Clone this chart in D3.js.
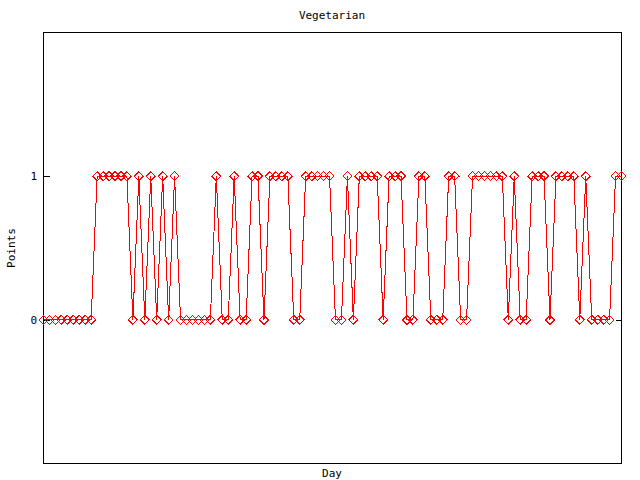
<!DOCTYPE html>
<html>
<head>
<meta charset="utf-8">
<script src="https://cdn.jsdelivr.net/npm/d3@7"></script>
<style>
  html, body { margin: 0; padding: 0; background: #fff; }
  svg { display: block; }
  text { font-family: "DejaVu Sans Mono", "Liberation Mono", monospace; font-size: 11px; fill: #000; }
</style>
</head>
<body>
<svg id="chart" width="640" height="480"></svg>
<script>
// ---- data ----
const title = "Vegetarian";
const xLabel = "Day";
const yLabel = "Points";
const yTicks = [0, 1];
const yDomain = [-1, 2];
// one value per day, days 0..97
const points = [
  0,0,0,0,0,0,0,0,0,        // 0-8
  1,1,1,1,1,1,              // 9-14
  0,1,0,1,0,1,0,1,          // 15-22
  0,0,0,0,0,0,              // 23-28
  1,0,0,1,0,0,1,1,0,        // 29-37
  1,1,1,1,0,0,              // 38-43
  1,1,1,1,1,0,0,1,0,        // 44-52
  1,1,1,1,0,1,1,1,0,0,      // 53-62
  1,1,0,0,0,1,1,0,0,        // 63-71
  1,1,1,1,1,1,0,1,0,0,      // 72-81
  1,1,1,0,1,1,1,1,0,1,      // 82-91
  0,0,0,0,1,1               // 92-97
];
const days = points.map((_, i) => i);

// ---- layout ----
const svg = d3.select("#chart");
const mLeft = 43.5, mRight = 621.5, mTop = 32.5, mBottom = 463.5;

const x = d3.scaleLinear().domain([0, days.length - 1]).range([mLeft, mRight]);
const y = d3.scaleLinear().domain(yDomain).range([mBottom, mTop]);

// frame
svg.append("rect")
  .attr("x", mLeft).attr("y", mTop)
  .attr("width", mRight - mLeft).attr("height", mBottom - mTop)
  .attr("fill", "none").attr("stroke", "#000").attr("stroke-width", 1)
  .attr("shape-rendering", "crispEdges");

// left axis (ticks inward)
const yAxisL = d3.axisLeft(y).tickValues(yTicks).tickFormat(d3.format("d"))
  .tickSizeInner(-6).tickSizeOuter(0).tickPadding(12);
const gL = svg.append("g").attr("transform", `translate(${mLeft},0)`).call(yAxisL);
gL.select(".domain").remove();
gL.selectAll("line").attr("stroke", "#000").attr("shape-rendering", "crispEdges");
gL.selectAll("text")
  .attr("x", 37 - mLeft).attr("text-anchor", "end")
  .style("font-family", '"DejaVu Sans Mono", monospace').style("font-size", "11px")
  .attr("fill", "#000");

// right axis (mirror ticks, no labels)
const yAxisR = d3.axisRight(y).tickValues(yTicks).tickFormat("")
  .tickSizeInner(-6).tickSizeOuter(0);
const gR = svg.append("g").attr("transform", `translate(${mRight},0)`).call(yAxisR);
gR.select(".domain").remove();
gR.selectAll("line").attr("stroke", "#000").attr("shape-rendering", "crispEdges");

// line
const line = d3.line().x((d, i) => x(days[i])).y(d => y(d));
svg.append("path")
  .datum(points)
  .attr("d", line)
  .attr("fill", "none")
  .attr("stroke", "#ff0000")
  .attr("stroke-width", 1)
  .attr("shape-rendering", "crispEdges");

// diamonds
const r = 4.5;
svg.append("g").selectAll("path.pt")
  .data(points)
  .join("path")
  .attr("class", "pt")
  .attr("d", (d, i) => {
    const cx = x(days[i]), cy = y(d);
    return `M${cx},${cy - r}L${cx + r},${cy}L${cx},${cy + r}L${cx - r},${cy}Z`;
  })
  .attr("fill", "none")
  .attr("stroke", "#ff0000")
  .attr("stroke-width", 1)
  .attr("shape-rendering", "crispEdges");

// texts
svg.append("text").attr("x", 332).attr("y", 19).attr("text-anchor", "middle").text(title);
svg.append("text").attr("x", 332).attr("y", 477).attr("text-anchor", "middle").text(xLabel);
svg.append("text")
  .attr("transform", "translate(15,248) rotate(-90)")
  .attr("text-anchor", "middle").text(yLabel);
</script>
</body>
</html>
